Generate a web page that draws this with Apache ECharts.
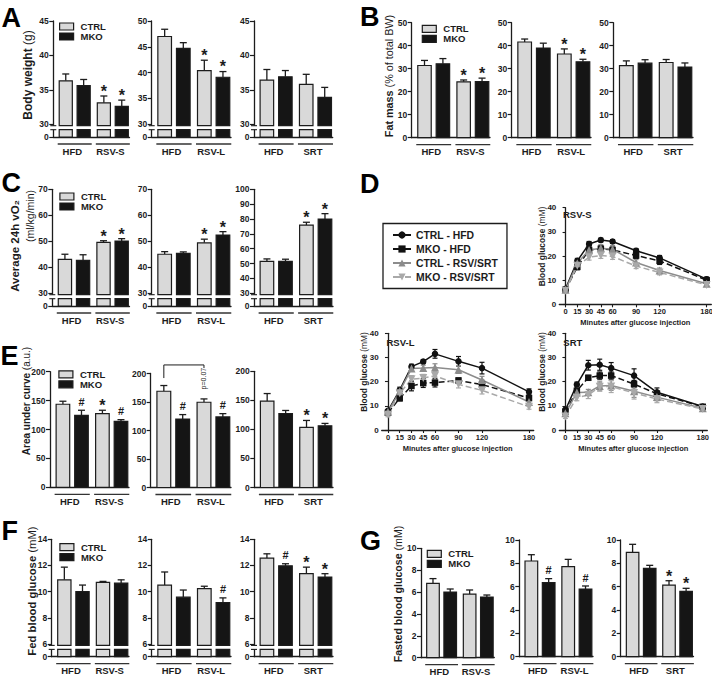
<!DOCTYPE html>
<html><head><meta charset="utf-8"><title>Figure</title>
<script src="https://cdn.jsdelivr.net/npm/echarts@6.0.0/dist/echarts.min.js"></script>
<style>html,body{margin:0;padding:0;background:#fff;}#chart{width:712px;height:677px;}</style>
</head><body><div id="chart"></div>
<script>
// ---------------- data ----------------
const groupLabels = [['HFD', 'RSV-S'], ['HFD', 'RSV-L'], ['HFD', 'SRT']];
const barSeriesNames = ['CTRL', 'MKO'];
// order inside each subplot: CTRL-HFD, MKO-HFD, CTRL-treated, MKO-treated
const bodyWeightMean = [[36.3, 35.6, 33.1, 32.6], [47.0, 44.7, 40.4, 39.1], [36.4, 36.9, 35.8, 33.9]];
const bodyWeightSem  = [[1.0, 0.9, 1.0, 0.9], [1.4, 1.1, 2.0, 1.1], [1.55, 0.9, 1.45, 1.45]];
const bodyWeightSig  = [['', '', '*', '*'], ['', '', '*', '*'], ['', '', '', '']];
const bodyWeightTicks = [[30, 35, 40, 45], [30, 35, 40, 45, 50], [30, 35, 40, 45]];

const fatMassMean = [[31.4, 32.1, 24.3, 24.4], [41.6, 39.0, 36.4, 33.0], [31.3, 32.4, 32.7, 30.7]];
const fatMassSem  = [[2.2, 2.3, 0.8, 1.5], [1.3, 2.1, 2.2, 1.1], [2.1, 1.5, 1.3, 1.8]];
const fatMassSig  = [['', '', '*', '*'], ['', '', '*', '*'], ['', '', '', '']];
const fatMassTicks = [[0, 10, 20, 30, 40, 50], [0, 10, 20, 30, 40, 50], [0, 10, 20, 30, 40, 50]];

const vo2Mean = [[43.0, 42.6, 49.6, 50.1], [45.0, 45.3, 49.4, 52.4], [51.5, 51.5, 75.8, 80.0]];
const vo2Sem  = [[2.0, 2.2, 0.6, 0.9], [1.0, 0.6, 1.4, 1.3], [1.6, 1.4, 2.0, 3.6]];
const vo2Sig  = [['', '', '*', '*'], ['', '', '*', '*'], ['', '', '*', '*']];
const vo2Ticks = [[30, 40, 50, 60, 70], [30, 40, 50, 60, 70], [30, 40, 50, 60, 70, 80, 90, 100]];

const aucMean = [[143.7, 124.6, 127.5, 114.0], [168.9, 120.2, 149.6, 123.8], [148.6, 127.4, 103.4, 106.3]];
const aucSem  = [[5.2, 8.7, 5.8, 3.0], [10.0, 7.7, 5.8, 5.8], [13.1, 5.2, 12.0, 4.0]];
const aucSig  = [['', '#', '*', '#'], ['', '#', '', '#'], ['', '', '*', '*']];
const aucTicks = [[0, 50, 100, 150, 200], [0, 50, 100, 150, 200], [0, 50, 100, 150, 200]];
const aucComparisonLabel = 'p=0.07'; // CTRL-HFD vs CTRL-RSV-L

const fedMean = [[10.9, 10.0, 10.7, 10.65], [10.5, 9.57, 10.23, 9.16], [12.56, 11.97, 11.37, 11.11]];
const fedSem  = [[0.97, 0.5, 0.08, 0.25], [1.0, 0.55, 0.18, 0.36], [0.33, 0.16, 0.5, 0.26]];
const fedSig  = [['', '', '', ''], ['', '', '', '#'], ['', '#', '*', '*']];
const fedTicks = [[6, 8, 10, 12, 14], [6, 8, 10, 12, 14], [6, 8, 10, 12, 14]];

const fastedMean = [[6.8, 6.0, 5.82, 5.55], [8.2, 6.34, 7.71, 5.8], [8.94, 7.57, 6.14, 5.6]];
const fastedSem  = [[0.43, 0.28, 0.37, 0.18], [0.54, 0.35, 0.63, 0.26], [0.69, 0.26, 0.37, 0.26]];
const fastedSig  = [['', '', '', ''], ['', '#', '', '#'], ['', '', '*', '*']];
const fastedTicks = [[0, 2, 4, 6, 8, 10], [0, 2, 4, 6, 8, 10], [0, 2, 4, 6, 8, 10]];

// glucose tolerance tests
const minutes = [0, 15, 30, 45, 60, 90, 120, 180];
const gttTitles = ['RSV-S', 'RSV-L', 'SRT'];
const lineNames = ['CTRL - HFD', 'MKO - HFD', 'CTRL - RSV/SRT', 'MKO - RSV/SRT'];
const gttRsvSMean = [[6.4, 18.0, 25.0, 26.6, 26.0, 22.2, 19.2, 10.4],
                     [6.0, 15.5, 22.5, 23.0, 22.5, 20.2, 18.0, 10.0],
                     [6.0, 17.0, 22.5, 23.2, 22.8, 17.3, 14.0, 8.5],
                     [5.6, 16.0, 19.5, 20.2, 19.8, 15.8, 13.2, 8.0]];
const gttRsvSSem  = [[0.6, 1.0, 1.0, 0.8, 0.8, 0.8, 1.0, 0.8],
                     [0.6, 1.2, 1.2, 1.2, 1.2, 1.2, 1.5, 0.8],
                     [0.6, 1.2, 1.5, 1.5, 1.5, 1.2, 1.0, 0.6],
                     [0.6, 1.2, 1.2, 1.2, 1.2, 1.0, 1.0, 0.6]];
const gttRsvLMean = [[7.9, 16.5, 26.2, 28.3, 31.5, 28.4, 25.6, 15.8],
                     [7.2, 13.1, 18.2, 19.4, 19.6, 20.5, 18.8, 13.2],
                     [7.5, 16.0, 25.4, 25.6, 25.9, 24.9, 20.7, 11.6],
                     [6.3, 15.2, 21.0, 21.5, 22.4, 18.9, 16.4, 9.6]];
const gttRsvLSem  = [[0.6, 1.2, 1.0, 0.8, 1.8, 2.0, 2.4, 1.2],
                     [0.6, 1.0, 2.0, 1.8, 1.8, 1.0, 1.8, 1.0],
                     [0.6, 1.2, 1.0, 1.2, 1.5, 1.5, 1.5, 1.0],
                     [0.8, 1.5, 1.5, 1.5, 1.5, 1.5, 1.5, 1.0]];
const gttSrtMean  = [[8.3, 18.8, 26.8, 27.0, 25.6, 22.5, 15.6, 9.7],
                     [7.6, 16.2, 21.6, 22.5, 22.5, 19.0, 15.0, 9.6],
                     [6.9, 15.5, 15.6, 18.2, 18.4, 16.0, 13.6, 9.0],
                     [5.6, 13.3, 14.5, 17.9, 18.0, 15.3, 12.8, 8.7]];
const gttSrtSem   = [[0.8, 1.0, 2.0, 2.3, 2.3, 2.8, 1.8, 0.8],
                     [0.8, 0.8, 1.0, 1.5, 1.5, 1.5, 1.0, 0.6],
                     [0.8, 1.5, 1.2, 2.0, 2.0, 2.5, 1.5, 0.8],
                     [0.8, 1.2, 1.5, 1.8, 2.5, 2.5, 1.5, 0.8]];

// ---------------- styling / layout ----------------
const INK = '#1c1c1c', CTRL_FILL = '#d9d9d9', MKO_FILL = '#151515';
const FONT = '"Liberation Sans", Arial, Helvetica, sans-serif';
const BREAK_PX = 12.8;
const BAR_W = 0.344, BAR_OFF = [0.155, 0.625];

const barPanels = [
  { mean: bodyWeightMean, sem: bodyWeightSem, sig: bodyWeightSig, ticks: bodyWeightTicks, broken: true,
    rects: [[53.3, 21, 129.5, 137], [151.7, 21, 231, 137], [254, 21, 332.7, 137]], legend: [59, 26] },
  { mean: fatMassMean, sem: fatMassSem, sig: fatMassSig, ticks: fatMassTicks, broken: false,
    rects: [[411.7, 22.7, 490, 137.7], [511.7, 22.7, 591, 137.7], [613.3, 22.7, 693, 137.7]], legend: [421.7, 28.3] },
  { mean: vo2Mean, sem: vo2Sem, sig: vo2Sig, ticks: vo2Ticks, broken: true,
    rects: [[52.3, 189.3, 129.5, 306], [151.7, 189.3, 231, 306], [254, 189.3, 333, 306]], legend: [59.3, 196] },
  { mean: aucMean, sem: aucSem, sig: aucSig, ticks: aucTicks, broken: false,
    rects: [[50, 371.7, 129, 487.3], [150.7, 373.5, 231, 487.5], [254.3, 371.3, 333, 487.5]], legend: [58.3, 373.8],
    bracket: { plot: 1, from: 0, to: 2, top: 215, leftEnd: 192, rightEnd: 209.5, labelAt: 191, label: aucComparisonLabel } },
  { mean: fedMean, sem: fedSem, sig: fedSig, ticks: fedTicks, broken: true,
    rects: [[51.7, 539.3, 129, 656.7], [151.7, 539.3, 231, 656.7], [254, 539.3, 333, 656.7]], legend: [59.3, 546.7] },
  { mean: fastedMean, sem: fastedSem, sig: fastedSig, ticks: fastedTicks, broken: false,
    rects: [[421, 548.3, 494.3, 657.7], [519.3, 540, 593, 656.7], [620.7, 540, 693.5, 656.7]], legend: [426.7, 553.3] }
];

const grids = [], xAxes = [], yAxes = [], series = [], legends = [], graphics = [];

function lineEl(x1, y1, x2, y2, color, w) {
  return { type: 'line', shape: { x1, y1, x2, y2 }, style: { stroke: color || INK, lineWidth: w || 1.3 } };
}

function makeBarRender(sig, broken, lo, bracket) {
  return function (params, api) {
    const i = params.dataIndex;
    const g = api.value(0), m = api.value(1), s = api.value(2);
    const cs = params.coordSys;
    const band = api.size([1, 0])[0];
    const c = api.coord([g, m]);
    const start = c[0] - band / 2;
    const bw = BAR_W * band, slot = i % 2;
    const x = start + BAR_OFF[slot] * band, cx = x + bw / 2;
    const yTop = c[1], yBot = cs.y + cs.height;
    const yErr = api.coord([g, m + s])[1];
    const fill = slot ? MKO_FILL : CTRL_FILL;
    const kids = [lineEl(cx, yTop, cx, yErr), lineEl(cx - 3.5, yErr, cx + 3.5, yErr)];
    const rect = (y0, y1) => ({ type: 'rect', shape: { x: x, y: y0, width: bw, height: y1 - y0 },
      style: { fill: fill, stroke: INK, lineWidth: 1.2 } });
    if (broken) {
      const yb = api.coord([g, lo])[1];
      kids.push(rect(yTop, yb + 1.5), rect(yb + 5.5, yBot));
    } else {
      kids.push(rect(yTop, yBot));
    }
    if (sig[i]) {
      const star = sig[i] === '*';
      kids.push({ type: 'text', style: { text: sig[i], x: cx, y: yErr - (star ? 4.6 : 8.4), align: 'center',
        verticalAlign: 'middle', fontFamily: FONT, fontWeight: 'bold', fontSize: star ? 16 : 11, fill: INK } });
    }
    if (slot === 0) {
      const xEnd = start + BAR_OFF[1] * band + bw;
      kids.push(lineEl(x - 1.5, yBot + 7, xEnd + 1.5, yBot + 7, '#333', 1.3));
    }
    if (i === 0 && broken) {
      const yb = api.coord([g, lo])[1];
      kids.push({ type: 'rect', shape: { x: cs.x - 4, y: yb + 1.5, width: 8, height: 4 }, style: { fill: '#fff' } });
      kids.push(lineEl(cs.x - 3, yb + 1.5, cs.x + 3, yb + 1.5, INK, 1.1), lineEl(cs.x - 3, yb + 5.5, cs.x + 3, yb + 5.5, INK, 1.1));
    }
    if (bracket && i === bracket.from) {
      const xA = start + BAR_OFF[0] * band + bw / 2;
      const xB = start + band + BAR_OFF[0] * band + bw / 2;
      const yT = api.coord([g, bracket.top])[1];
      kids.push(lineEl(xA, yT, xB, yT, INK, 1), lineEl(xA, yT, xA, api.coord([g, bracket.leftEnd])[1], INK, 1),
        lineEl(xB, yT, xB, api.coord([g, bracket.rightEnd])[1], INK, 1));
      kids.push({ type: 'text', x: xB, y: api.coord([g, bracket.labelAt])[1], rotation: Math.PI / 2,
        style: { text: bracket.label, x: 0, y: 0, align: 'center', verticalAlign: 'middle',
          fontFamily: FONT, fontSize: 7, fill: INK } });
    }
    return { type: 'group', children: kids };
  };
}

function addBarSubplot(panel, k) {
  const gi = grids.length;
  const [l, t, r, b] = panel.rects[k];
  grids.push({ left: l, top: t, width: r - l, height: b - t, containLabel: false, outerBoundsMode: 'none' });
  const ticks = panel.ticks[k];
  const lo = ticks[0], hi = ticks[ticks.length - 1];
  const h = b - t;
  const min = panel.broken ? lo - (hi - lo) * BREAK_PX / (h - BREAK_PX) : lo;
  const tickVals = panel.broken ? [min].concat(ticks) : ticks.slice();
  xAxes.push({ type: 'category', gridIndex: gi, data: groupLabels[k], boundaryGap: true,
    axisLine: { show: true, onZero: false, lineStyle: { color: INK, width: 1.3 } }, axisTick: { show: false },
    axisLabel: { show: true, interval: 0, margin: 9, color: INK, fontFamily: FONT, fontWeight: 'bold', fontSize: 9.5 },
    splitLine: { show: false } });
  yAxes.push({ type: 'value', gridIndex: gi, min: min, max: hi, splitLine: { show: false },
    axisLine: { show: true, lineStyle: { color: INK, width: 1.3 } },
    axisTick: { show: true, length: 4, customValues: tickVals, lineStyle: { color: INK, width: 1.2 } },
    axisLabel: { show: true, customValues: tickVals, margin: 4.5, color: INK, fontFamily: FONT, fontWeight: 'bold', fontSize: 8.5,
      formatter: v => (v < lo - 1e-6 ? '0' : String(v)) } });
  const bracket = panel.bracket && panel.bracket.plot === k ? panel.bracket : null;
  series.push({ type: 'custom', xAxisIndex: gi, yAxisIndex: gi, silent: true, z: 3, encode: { x: 0, y: 1 },
    data: panel.mean[k].map((m, i) => [Math.floor(i / 2), m, panel.sem[k][i]]),
    renderItem: makeBarRender(panel.sig[k], panel.broken, lo, bracket) });
}

barPanels.forEach(p => {
  for (let k = 0; k < 3; k++) addBarSubplot(p, k);
  legends.push({ orient: 'vertical', left: p.legend[0], top: p.legend[1] - 4.5, padding: 0, itemGap: 0,
    itemWidth: 14, itemHeight: 7, selectedMode: false, icon: 'rect',
    itemStyle: { borderWidth: 1.2, borderColor: INK },
    textStyle: { fontFamily: FONT, fontWeight: 'bold', fontSize: 9.5, color: INK, lineHeight: 9, padding: [0, 0, 0, 2] },
    data: barSeriesNames });
});
series.push({ type: 'bar', name: barSeriesNames[0], xAxisIndex: 0, yAxisIndex: 0, data: [],
  itemStyle: { color: CTRL_FILL, borderColor: INK, borderWidth: 1.2 } });
series.push({ type: 'bar', name: barSeriesNames[1], xAxisIndex: 0, yAxisIndex: 0, data: [],
  itemStyle: { color: MKO_FILL, borderColor: INK, borderWidth: 1.2 } });

// ---------- GTT line plots ----------
const lineLooks = [
  { color: '#111111', type: 'solid', symbol: 'circle', size: 6.5 },
  { color: '#111111', type: 'dashed', symbol: 'rect', size: 6.5 },
  { color: '#8c8c8c', type: 'solid', symbol: 'triangle', size: 8 },
  { color: '#a9a9a9', type: 'dashed', symbol: 'path://M0,0L10,0L5,9Z', size: 8 }
];
const gttPlots = [
  { mean: gttRsvSMean, sem: gttRsvSSem, rect: [559.3, 207.7, 711.3, 304.3], title: gttTitles[0], titlePos: [563, 214.5], yTitle: [541.5, 246.5] },
  { mean: gttRsvLMean, sem: gttRsvLSem, rect: [381.7, 333.3, 533.7, 430], title: gttTitles[1], titlePos: [386.5, 342.5], yTitle: [363.8, 372] },
  { mean: gttSrtMean, sem: gttSrtSem, rect: [559.3, 333.3, 707.3, 430], title: gttTitles[2], titlePos: [563.3, 342.5], yTitle: [541.5, 372] }
];
function errRender(color) {
  return function (params, api) {
    const x = api.value(0), m = api.value(1), s = api.value(2);
    const p1 = api.coord([x, m - s]), p2 = api.coord([x, m + s]);
    return { type: 'group', children: [
      lineEl(p1[0], p1[1], p2[0], p2[1], color, 1.2),
      lineEl(p1[0] - 2.5, p1[1], p1[0] + 2.5, p1[1], color, 1.2),
      lineEl(p2[0] - 2.5, p2[1], p2[0] + 2.5, p2[1], color, 1.2)] };
  };
}
gttPlots.forEach(p => {
  const gi = grids.length;
  const [l, t, r, b] = p.rect;
  grids.push({ left: l, top: t, width: r - l, height: b - t, containLabel: false, outerBoundsMode: 'none' });
  xAxes.push({ type: 'value', gridIndex: gi, min: -8, max: 186, splitLine: { show: false },
    axisLine: { show: true, onZero: false, lineStyle: { color: INK, width: 1.3 } },
    axisTick: { show: true, length: 3, customValues: minutes, lineStyle: { color: INK, width: 1.1 } },
    axisLabel: { show: true, customValues: minutes, margin: 3, color: INK, fontFamily: FONT, fontWeight: 'bold', fontSize: 7.5 },
    name: 'Minutes after glucose injection', nameLocation: 'middle', nameGap: 14,
    nameTextStyle: { fontFamily: FONT, fontWeight: 'bold', fontSize: 7.5, color: INK } });
  yAxes.push({ type: 'value', gridIndex: gi, min: 0, max: 40, interval: 10, splitLine: { show: false },
    axisLine: { show: true, lineStyle: { color: INK, width: 1.3 } },
    axisTick: { show: true, length: 3, lineStyle: { color: INK, width: 1.1 } },
    axisLabel: { show: true, margin: 3, color: INK, fontFamily: FONT, fontWeight: 'bold', fontSize: 8 } });
  p.mean.forEach((vals, j) => {
    const look = lineLooks[j];
    series.push({ type: 'custom', xAxisIndex: gi, yAxisIndex: gi, silent: true, z: 2, encode: { x: 0, y: 1 },
      data: minutes.map((mn, q) => [mn, vals[q], p.sem[j][q]]), renderItem: errRender(look.color) });
    series.push({ type: 'line', name: lineNames[j], xAxisIndex: gi, yAxisIndex: gi, z: 3, silent: true,
      data: minutes.map((mn, q) => [mn, vals[q]]), symbol: look.symbol, symbolSize: look.size,
      lineStyle: { color: look.color, width: 1.5, type: look.type }, itemStyle: { color: look.color, borderWidth: 0 } });
  });
  graphics.push({ type: 'text', x: p.titlePos[0], y: p.titlePos[1],
    style: { text: p.title, fontFamily: FONT, fontWeight: 'bold', fontSize: 9.5, fill: INK, align: 'left', verticalAlign: 'middle' } });
  vTitle('Blood glucose', '(mM)', p.yTitle[0], p.yTitle[1], 8.4);
});
legends.push({ orient: 'vertical', left: 383, top: 223.5, padding: [5, 9, 5, 9], itemGap: 1, itemWidth: 18, itemHeight: 9,
  borderColor: INK, borderWidth: 1.3, selectedMode: false,
  textStyle: { fontFamily: FONT, fontWeight: 'bold', fontSize: 10.4, color: INK, lineHeight: 13 }, data: lineNames });

// ---------- panel letters and axis titles ----------
[['A', 1.5, 17.5], ['B', 360, 16.8], ['C', 1.5, 182.5], ['D', 360, 183.5], ['E', 0.5, 355.5], ['F', 1.5, 531], ['G', 360, 540.5]]
  .forEach(([t, x, y]) => graphics.push({ type: 'text', x: x, y: y,
    style: { text: t, fontFamily: FONT, fontWeight: 'bold', fontSize: 27, fill: '#000', align: 'left', verticalAlign: 'middle' } }));

function vTitle(bold, reg, x, y, size) {
  const rich = { b: { fontFamily: FONT, fontWeight: 'bold', fontSize: size, fill: INK, color: INK },
                 r: { fontFamily: FONT, fontWeight: 'normal', fontSize: size, fill: INK, color: INK } };
  const txt = (bold ? '{b|' + bold + '}' : '') + (reg ? '{r|' + (bold ? ' ' : '') + reg + '}' : '');
  graphics.push({ type: 'text', x: x, y: y, rotation: Math.PI / 2,
    style: { text: txt, rich: rich, align: 'center', verticalAlign: 'middle' } });
}
vTitle('Body weight', '(g)', 27.5, 75, 12);
vTitle('Fat mass', '(% of total BW)', 388.5, 76, 10.8);
vTitle('Average 24h vO\u2082', '', 15, 246, 11.5);
vTitle('', '(ml/kg/min)', 29.5, 216, 10.5);
vTitle('Area under curve', '(a.u.)', 26.5, 401, 10);
vTitle('Fed blood glucose', '(mM)', 32, 591, 11.3);
vTitle('Fasted blood glucose', '(mM)', 397.5, 594, 10.6);

const chart = echarts.init(document.getElementById('chart'), null, { renderer: 'svg', width: 712, height: 677 });
chart.setOption({
  animation: false,
  backgroundColor: '#ffffff',
  grid: grids, xAxis: xAxes, yAxis: yAxes, series: series, legend: legends,
  graphic: { elements: graphics }
});
</script></body></html>
